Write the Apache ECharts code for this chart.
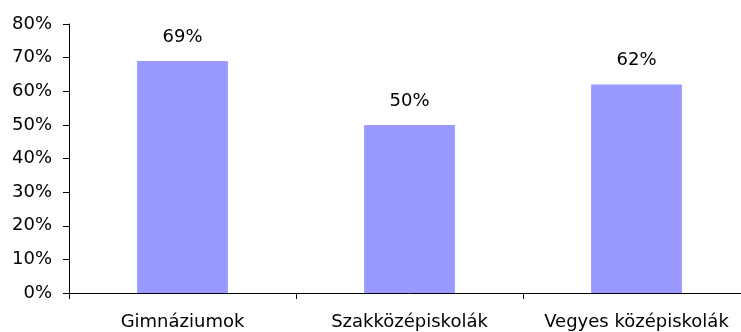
<!DOCTYPE html>
<html>
<head>
<meta charset="utf-8">
<script src="https://cdn.jsdelivr.net/npm/echarts@6/dist/echarts.min.js"></script>
<style>
  html, body { margin: 0; padding: 0; background: #fff; overflow: hidden; width: 741px; height: 332px; }
  #chart { width: 750px; height: 332px; }
</style>
</head>
<body>
<div id="chart"></div>
<script>
// School types and share values (percent)
const categories = ['Gimnáziumok', 'Szakközépiskolák', 'Vegyes középiskolák'];
const shares = [69, 50, 62];
const yTicks = { min: 0, max: 80, step: 10 };

const chart = echarts.init(document.getElementById('chart'), null, { renderer: 'canvas' });
const font = '"DejaVu Sans", Arial, sans-serif';

chart.setOption({
  animation: false,
  backgroundColor: '#ffffff',
  grid: { left: 69, right: 0, top: 24, bottom: 39, containLabel: false },
  xAxis: {
    type: 'category',
    data: categories,
    boundaryGap: true,
    axisLine: { lineStyle: { color: '#000', width: 1 } },
    axisTick: { show: true, alignWithLabel: false, length: 6, lineStyle: { color: '#000' } },
    axisLabel: { color: '#000', fontSize: 18, fontFamily: font, margin: 20, interval: 0 },
    splitLine: { show: false }
  },
  yAxis: {
    type: 'value',
    min: yTicks.min,
    max: yTicks.max,
    interval: yTicks.step,
    axisLine: { show: true, lineStyle: { color: '#000', width: 1 } },
    axisTick: { show: true, inside: false, length: 6, lineStyle: { color: '#000' } },
    axisLabel: { color: '#000', fontSize: 18, fontFamily: font, margin: 17, formatter: v => v + '%' },
    splitLine: { show: false }
  },
  series: [{
    type: 'bar',
    data: shares,
    barWidth: '40%',
    itemStyle: { color: '#9999ff' },
    label: {
      show: true,
      position: 'top',
      distance: 15,
      color: '#000',
      fontSize: 18,
      fontFamily: font,
      formatter: p => p.value + '%'
    }
  }]
});
</script>
</body>
</html>
